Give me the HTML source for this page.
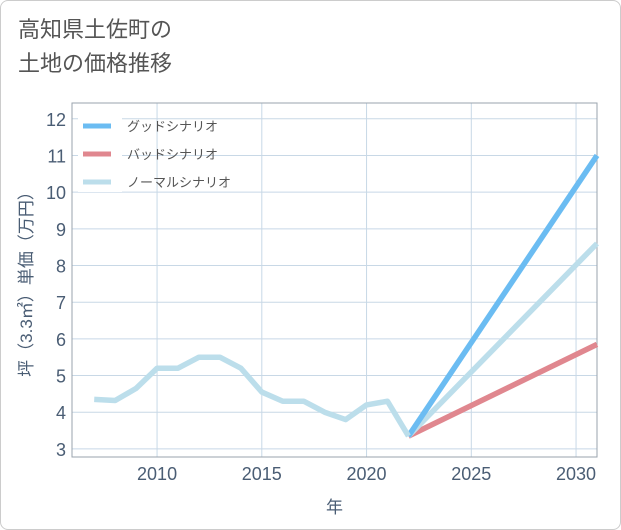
<!DOCTYPE html>
<html><head><meta charset="utf-8"><style>
body{margin:0;background:#fff;}
.card{position:absolute;left:0;top:0;width:619px;height:528px;border:1px solid #ccc;border-radius:8px;background:#fff;}
.title{position:absolute;left:18px;top:13px;font-family:"Liberation Sans","Noto Sans CJK JP",sans-serif;font-size:22px;line-height:34px;color:#555;}
</style></head><body>
<div class="card"></div>
<div class="title">高知県土佐町の<br>土地の価格推移</div>
<svg id="chart" width="621" height="530" style="position:absolute;left:0;top:0"></svg>
<script>
const years=[2007,2008,2009,2010,2011,2012,2013,2014,2015,2016,2017,2018,2019,2020,2021,2022];
const history=[4.35,4.32,4.65,5.2,5.2,5.5,5.5,5.2,4.55,4.3,4.3,4.0,3.8,4.2,4.3,3.35];
const scenarioYears=[2022,2031];
const good=[3.35,11.0];
const bad=[3.35,5.85];
const normal=[3.35,8.6];
const xTicks=[2010,2015,2020,2025,2030];
const yTicks=[3,4,5,6,7,8,9,10,11,12];
const legendLabels=["グッドシナリオ","バッドシナリオ","ノーマルシナリオ"];
const colors=["#6bbcf2","#e0878f","#bcdeeb"];

const L=72,R=597,T=103,B=457;
const x=v=>L+(v-2005.94)/(2031-2005.94)*(R-L);
const y=v=>B-(v-2.78)/(12.43-2.78)*(B-T);
const svg=document.getElementById('chart');
const NS='http://www.w3.org/2000/svg';
function mk(t,a){const e=document.createElementNS(NS,t);for(const k in a)e.setAttribute(k,a[k]);svg.appendChild(e);return e;}
const font='"Liberation Sans","Noto Sans CJK JP",sans-serif';

yTicks.forEach(v=>{
 const g=mk('line',{x1:L,x2:R,y1:y(v),y2:y(v),stroke:'#c8d8e6','stroke-width':1});
 
 
 const t=mk('text',{x:L-6,y:y(v)+7,'text-anchor':'end','font-family':font,'font-size':18,fill:'#4a5d74'});
 t.textContent=v;
 
 
});
xTicks.forEach(v=>{
 const g=mk('line',{x1:x(v),x2:x(v),y1:T,y2:B,stroke:'#c8d8e6','stroke-width':1});
 
 
 const t=mk('text',{x:x(v),y:B+23,'text-anchor':'middle','font-family':font,'font-size':18,fill:'#4a5d74'});
 t.textContent=v;
 
 
});
const fr=mk('rect',{x:L,y:T,width:R-L,height:B-T,fill:'none',stroke:'#9aa3ad','stroke-width':1});



function line(xs,ys,c,name){
 const p=mk('polyline',{points:xs.map((v,i)=>x(v)+','+y(ys[i])).join(' '),fill:'none',stroke:c,'stroke-width':5.5,'stroke-linejoin':'round'});
 
 
}
line(scenarioYears,bad,colors[1],'bad-scenario-line');
line(scenarioYears,normal,colors[2],'normal-scenario-line');
line(scenarioYears,good,colors[0],'good-scenario-line');
line(years,history,colors[2],'history-line');

legendLabels.forEach((lab,i)=>{
 const yy=126+i*28;
 const bg=mk('rect',{x:78,y:yy-10,width:44,height:20,fill:'#fff'});
 
 
 const s=mk('line',{x1:83,x2:111,y1:yy,y2:yy,stroke:colors[i],'stroke-width':5});
 
 
 const t=mk('text',{x:127,y:yy+5,'font-family':font,'font-size':13,fill:'#555'});
 t.textContent=lab;
 
 
});
const xt=mk('text',{x:(L+R)/2,y:513,'text-anchor':'middle','font-family':font,'font-size':17,fill:'#4a5d74'});
xt.textContent='年';


const yt=mk('text',{x:0,y:0,'text-anchor':'middle','font-family':font,'font-size':17,fill:'#4a5d74',transform:'translate(32,'+((T+B)/2)+') rotate(-90)'});
yt.textContent='坪（3.3㎡）単価（万円）';


</script>
</body></html>
